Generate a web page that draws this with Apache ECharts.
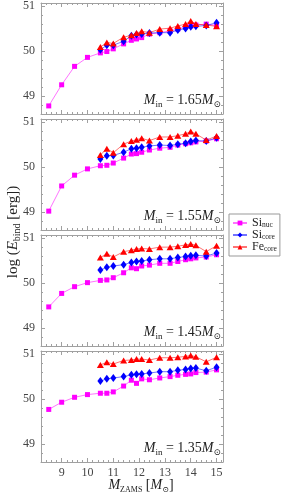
<!DOCTYPE html>
<html><head><meta charset="utf-8">
<script src="https://cdn.jsdelivr.net/npm/echarts@6/dist/echarts.min.js"></script>
<style>html,body{margin:0;padding:0;background:#fff}#c{width:281px;height:494px}</style>
</head><body><div id="c"></div>
<script>
// ---- data ----
const massAll = [8.5, 9, 9.5, 10, 10.5, 10.75, 11, 11.4, 11.7, 11.9, 12.1, 12.4, 12.8, 13.2, 13.5, 13.8, 14, 14.2, 14.6, 15];
const massCore = [10.5, 10.75, 11, 11.4, 11.7, 11.9, 12.1, 12.4, 12.8, 13.2, 13.5, 13.8, 14, 14.2, 14.6, 15];
const panelLabels = ['1.65', '1.55', '1.45', '1.35'];

const siNuc165 = [48.78, 49.25, 49.66, 49.86, 49.96, 49.99, 50.05, 50.16, 50.24, 50.27, 50.30, 50.38, 50.41, 50.45, 50.49, 50.54, 50.56, 50.58, 50.60, 50.57];
const siCore165 = [50.03, 50.13, 50.13, 50.22, 50.34, 50.37, 50.38, 50.40, 50.41, 50.41, 50.47, 50.50, 50.54, 50.55, 50.57, 50.63];
const feCore165 = [50.09, 50.19, 50.17, 50.31, 50.35, 50.40, 50.44, 50.41, 50.49, 50.51, 50.56, 50.60, 50.67, 50.60, 50.58, 50.55];

const siNuc155 = [49.02, 49.58, 49.82, 49.96, 50.03, 50.04, 50.09, 50.20, 50.29, 50.30, 50.33, 50.38, 50.42, 50.44, 50.49, 50.52, 50.54, 50.56, 50.58, 50.63];
const siCore155 = [50.18, 50.25, 50.26, 50.33, 50.41, 50.42, 50.44, 50.47, 50.49, 50.48, 50.51, 50.53, 50.57, 50.59, 50.58, 50.65];
const feCore155 = [50.27, 50.41, 50.32, 50.51, 50.58, 50.61, 50.64, 50.59, 50.67, 50.67, 50.70, 50.74, 50.79, 50.74, 50.60, 50.69];

const siNuc145 = [49.47, 49.77, 49.92, 50.01, 50.06, 50.07, 50.12, 50.23, 50.34, 50.32, 50.38, 50.40, 50.44, 50.44, 50.48, 50.52, 50.54, 50.56, 50.58, 50.63];
const siCore145 = [50.29, 50.35, 50.38, 50.41, 50.46, 50.48, 50.49, 50.52, 50.54, 50.54, 50.57, 50.59, 50.61, 50.62, 50.60, 50.67];
const feCore145 = [50.57, 50.65, 50.58, 50.70, 50.73, 50.76, 50.77, 50.76, 50.80, 50.80, 50.82, 50.85, 50.87, 50.84, 50.70, 50.83];

const siNuc135 = [49.77, 49.93, 50.04, 50.10, 50.13, 50.13, 50.16, 50.29, 50.42, 50.35, 50.45, 50.43, 50.47, 50.50, 50.53, 50.55, 50.56, 50.59, 50.60, 50.65];
const siCore135 = [50.40, 50.45, 50.47, 50.50, 50.54, 50.55, 50.56, 50.58, 50.61, 50.61, 50.64, 50.66, 50.68, 50.69, 50.63, 50.71];
const feCore135 = [50.76, 50.82, 50.78, 50.86, 50.87, 50.89, 50.89, 50.87, 50.92, 50.92, 50.93, 50.95, 50.97, 50.94, 50.83, 50.93];

const xTicks = [9, 10, 11, 12, 13, 14, 15];
const yTicks = [49, 50, 51];

// ---- build ----
const panels = [
  [siNuc165, siCore165, feCore165],
  [siNuc155, siCore155, feCore155],
  [siNuc145, siCore145, feCore145],
  [siNuc135, siCore135, feCore135]
];
const SERIF = '"Liberation Serif", "DejaVu Serif", serif';
const frameColor = '#a0a0a0';
const tickColor = '#444';
const X_MIN = 8.2, X_MAX = 15.25, Y_MIN = 48.6, Y_MAX = 51.07;
function range(a, b, s) { const r = []; for (let v = a; v <= b + 1e-9; v += s) r.push(Math.round(v * 100) / 100); return r; }
const xMinor = range(8.4, 15.2, 0.2).filter(v => Math.abs(v - Math.round(v)) > 1e-6);
const yMinor = range(48.6, 51.0, 0.2).filter(v => Math.abs(v - Math.round(v)) > 1e-6);

const tops = [3, 119, 235, 351];
const H = 111;
const grids = [], xAxes = [], yAxes = [], series = [], titles = [];
const serNames = ['Si_nuc', 'Si_core', 'Fe_core'];
const colors = ['#ff00ff', '#0000ff', '#ff0000'];
const symbols = ['rect', 'diamond', 'triangle'];
const symSizes = [5, [6, 8], [7, 6]];

tops.forEach((t, i) => {
  grids.push({ left: 41, right: 58, top: t, height: H, outerBoundsMode: 'none', containLabel: false });
  const mkX = (pos, major, showLine, showLabel) => ({
    gridIndex: i, type: 'value', min: X_MIN, max: X_MAX, position: pos,
    axisLine: { show: showLine, onZero: false, lineStyle: { color: frameColor, width: 1 } },
    axisTick: { show: true, inside: true, length: major ? 4 : 2, customValues: major ? xTicks : xMinor, lineStyle: { color: frameColor } },
    axisLabel: { show: showLabel, customValues: xTicks, fontFamily: SERIF, fontSize: 12, color: tickColor, margin: 5 },
    splitLine: { show: false }
  });
  const mkY = (pos, major, showLine, showLabel) => ({
    gridIndex: i, type: 'value', min: Y_MIN, max: Y_MAX, position: pos,
    axisLine: { show: showLine, onZero: false, lineStyle: { color: frameColor, width: 1 } },
    axisTick: { show: true, inside: true, length: major ? 4 : 2, customValues: major ? yTicks : yMinor, lineStyle: { color: frameColor } },
    axisLabel: { show: showLabel, customValues: yTicks, fontFamily: SERIF, fontSize: 12, color: tickColor, margin: 6 },
    splitLine: { show: false }
  });
  const xBase = xAxes.length, yBase = yAxes.length;
  xAxes.push(mkX('bottom', true, true, i === 3));
  xAxes.push(mkX('bottom', false, false, false));
  xAxes.push(mkX('top', true, true, false));
  xAxes.push(mkX('top', false, false, false));
  yAxes.push(mkY('left', true, true, true));
  yAxes.push(mkY('left', false, false, false));
  yAxes.push(mkY('right', true, true, false));
  yAxes.push(mkY('right', false, false, false));

  panels[i].forEach((vals, k) => {
    const xs = k === 0 ? massAll : massCore;
    series.push({
      name: serNames[k], type: 'line', xAxisIndex: xBase, yAxisIndex: yBase,
      data: xs.map((x, j) => [x, vals[j]]),
      symbol: symbols[k], symbolSize: symSizes[k], showSymbol: true,
      itemStyle: { color: colors[k] },
      lineStyle: { color: colors[k], width: 1, opacity: 0.55 },
      z: 2 + k, animation: false, silent: true
    });
  });

  titles.push({
    text: '{m|M}{s|in}{t| = ' + panelLabels[i] + '}{m|M}{s|\u2299}',
    right: 60, top: t + 88, padding: 0,
    textStyle: {
      fontWeight: 'normal',
      rich: {
        m: { fontFamily: SERIF, fontStyle: 'italic', fontWeight: 'normal', fontSize: 14, color: '#222', lineHeight: 18 },
        t: { fontFamily: SERIF, fontWeight: 'normal', fontSize: 14, color: '#222', lineHeight: 18 },
        s: { fontFamily: SERIF, fontWeight: 'normal', fontSize: 9, color: '#222', lineHeight: 9, verticalAlign: 'bottom' }
      }
    }
  });
});

const chart = echarts.init(document.getElementById('c'), null, { renderer: 'canvas' });
chart.setOption({
  animation: false,
  backgroundColor: '#fff',
  title: titles,
  grid: grids,
  xAxis: xAxes,
  yAxis: yAxes,
  series: series,
  legend: {
    data: serNames, orient: 'vertical', left: 229, top: 214,
    borderColor: '#999', borderWidth: 1, padding: [3, 3, 3, 3], itemGap: 0,
    itemWidth: 14, itemHeight: 6,
    formatter: n => { const p = n.split('_'); return '{a|' + p[0] + '}{b|' + p[1] + '}'; },
    textStyle: {
      rich: {
        a: { fontFamily: SERIF, fontSize: 12, color: '#222', lineHeight: 12 },
        b: { fontFamily: SERIF, fontSize: 7.5, color: '#222', lineHeight: 7, verticalAlign: 'bottom' }
      }
    }
  },
  graphic: [
    {
      type: 'text', x: 13, y: 232, rotation: Math.PI / 2,
      style: {
        text: '{t|log (}{m|E}{s|bind}{t| [erg])}', align: 'center', verticalAlign: 'middle',
        rich: {
          t: { fontFamily: SERIF, fontSize: 15, fill: '#222', lineHeight: 18 },
          m: { fontFamily: SERIF, fontStyle: 'italic', fontSize: 15, fill: '#222', lineHeight: 18 },
          s: { fontFamily: SERIF, fontSize: 10, fill: '#222', lineHeight: 10, verticalAlign: 'bottom' }
        }
      }
    },
    {
      type: 'text', x: 141, y: 485,
      style: {
        text: '{m|M}{s|ZAMS}{t| [}{m|M}{s|\u2299}{t|]}', align: 'center', verticalAlign: 'middle',
        rich: {
          t: { fontFamily: SERIF, fontSize: 14, fill: '#222', lineHeight: 18 },
          m: { fontFamily: SERIF, fontStyle: 'italic', fontSize: 14, fill: '#222', lineHeight: 18 },
          s: { fontFamily: SERIF, fontSize: 8, fill: '#222', lineHeight: 8, verticalAlign: 'bottom' }
        }
      }
    }
  ]
});
</script></body></html>
